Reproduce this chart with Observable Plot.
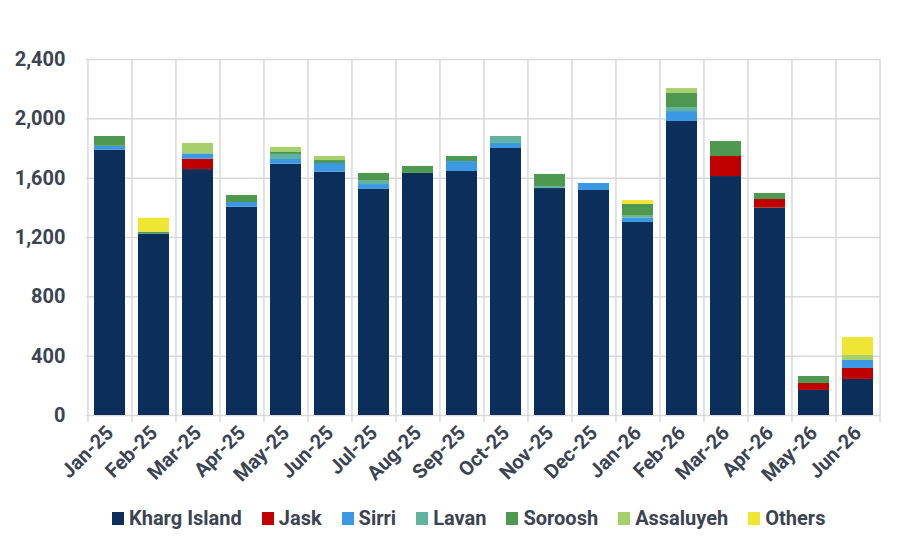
<!DOCTYPE html>
<html><head><meta charset="utf-8">
<script src="https://cdn.jsdelivr.net/npm/d3@7"></script>
<script src="https://cdn.jsdelivr.net/npm/@observablehq/plot@0.6"></script>
<style>
body{margin:0;background:#fff;font-family:Roboto,sans-serif;}
#wrap{position:relative;width:902px;height:557px;}
#legend{position:absolute;top:506px;left:112px;display:flex;align-items:center;font:bold 20px Roboto,sans-serif;color:#3b4452;white-space:nowrap;}
#legend .item{display:flex;align-items:center;margin-right:20px;}
#legend .sw{width:12px;height:13px;margin-right:5px;}
</style></head><body><div id="wrap"><div id="chart"></div><div id="legend"></div></div>
<script>
const months = ["Jan-25","Feb-25","Mar-25","Apr-25","May-25","Jun-25","Jul-25","Aug-25","Sep-25","Oct-25","Nov-25","Dec-25","Jan-26","Feb-26","Mar-26","Apr-26","May-26","Jun-26"];
const series = ["Kharg Island","Jask","Sirri","Lavan","Soroosh","Assaluyeh","Others"];
const colors = ["#0b2f5a","#c00000","#3b98e2","#5fb39f","#4e984f","#a6d06c","#eee632"];
const kharg     = [1789,1222,1658,1404,1694,1640,1524,1632,1645,1800,1530,1517,1301,1982,1611,1398,169,243];
const jask      = [0,0,70,0,0,0,0,0,0,0,0,0,0,0,135,58,47,74];
const sirri     = [26,0,36,32,32,59,33,0,67,34,0,47,29,67,0,0,0,54];
const lavan     = [0,0,0,0,34,0,27,0,0,47,14,0,14,27,0,0,0,0];
const soroosh   = [66,14,0,47,13,20,48,47,34,0,81,0,79,95,101,41,47,0];
const assaluyeh = [0,0,70,0,34,27,0,0,0,0,0,0,0,33,0,0,0,34];
const others    = [0,94,0,0,0,0,0,0,0,0,0,0,26,0,0,0,0,121];
const yTicks = [0,400,800,1200,1600,2000,2400];

const values = [kharg,jask,sirri,lavan,soroosh,assaluyeh,others];
const rows = [];
series.forEach((s,i)=>values[i].forEach((v,j)=>rows.push({month:months[j],series:s,value:v})));

const W=902,H=490,ml=86,mr=22,mt=59,mb=75;
const step=(W-ml-mr)/months.length;
const grid={stroke:"#d9d9d9",strokeWidth:1.5,strokeOpacity:1};

const plot = Plot.plot({
  width:W,height:H,marginLeft:ml,marginRight:mr,marginTop:mt,marginBottom:mb,
  style:{fontFamily:"Roboto, sans-serif",fontSize:"20px",fontWeight:"bold",color:"#3b4452",background:"#fff",overflow:"visible"},
  x:{domain:months,paddingInner:0.3,paddingOuter:0.15,label:null,tickSize:0,tickRotate:-45,tickPadding:14},
  y:{domain:[0,2400],ticks:yTicks,tickFormat:d3.format(","),label:null,tickSize:0,tickPadding:21},
  color:{domain:series,range:colors},
  marks:[
    Plot.ruleY(yTicks,{...grid}),
    Plot.ruleX(months,{x:d=>d,dx:-step/2,insetBottom:-7,...grid}),
    Plot.ruleX([months[months.length-1]],{x:d=>d,dx:step/2,insetBottom:-7,...grid}),
    Plot.barY(rows,{x:"month",y:"value",fill:"series"})
  ]
});
document.getElementById("chart").appendChild(plot);

const lg=document.getElementById("legend");
series.forEach((s,i)=>{
  const it=document.createElement("div");it.className="item";
  const sw=document.createElement("div");sw.className="sw";sw.style.background=colors[i];
  const tx=document.createElement("span");tx.textContent=s;
  it.appendChild(sw);it.appendChild(tx);lg.appendChild(it);
});
</script></body></html>
